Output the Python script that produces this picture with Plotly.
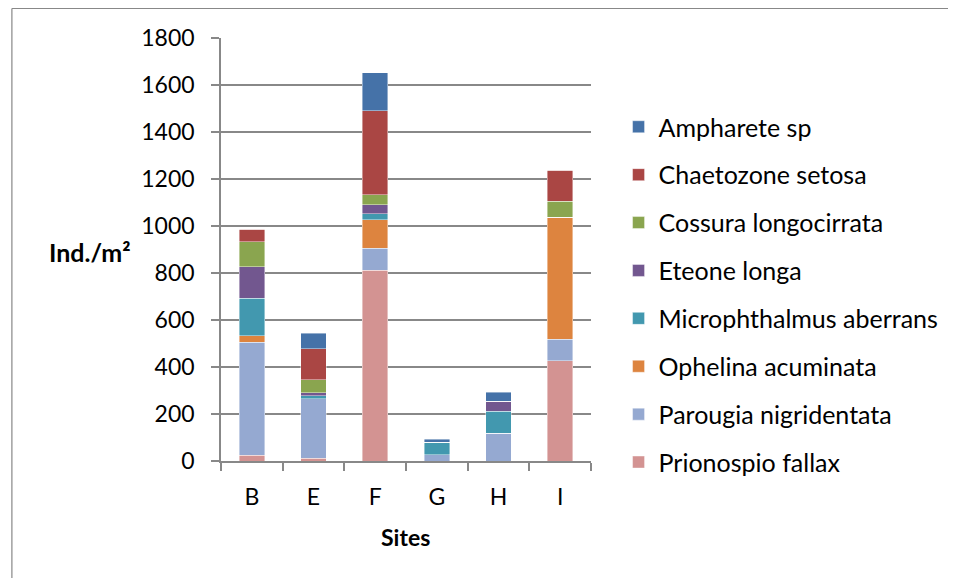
import plotly.graph_objects as go

sites = ["B", "E", "F", "G", "H", "I"]

prionospio_fallax = [24, 11, 811, 0, 0, 426]
parougia_nigridentata = [481, 253, 94, 26, 119, 93]
ophelina_acuminata = [27, 0, 121, 0, 0, 518]
microphthalmus_aberrans = [160, 14, 26, 53, 92, 0]
eteone_longa = [134, 13, 39, 0, 43, 0]
cossura_longocirrata = [106, 55, 41, 0, 0, 68]
chaetozone_setosa = [54, 132, 359, 0, 0, 133]
ampharete_sp = [0, 65, 161, 13, 38, 0]

series = [
    ("Prionospio fallax", prionospio_fallax, "#D39392"),
    ("Parougia nigridentata", parougia_nigridentata, "#95A9D1"),
    ("Ophelina acuminata", ophelina_acuminata, "#DD843F"),
    ("Microphthalmus aberrans", microphthalmus_aberrans, "#4298AF"),
    ("Eteone longa", eteone_longa, "#72578F"),
    ("Cossura longocirrata", cossura_longocirrata, "#8AA54F"),
    ("Chaetozone setosa", chaetozone_setosa, "#AA4644"),
    ("Ampharete sp", ampharete_sp, "#4572A8"),
]

y_ticks = [0, 200, 400, 600, 800, 1000, 1200, 1400, 1600, 1800]

FONT = "Lato"
OFF = 8  # page body margin offset

fig = go.Figure()
n = len(series)
for i, (name, vals, color) in enumerate(series):
    fig.add_trace(go.Bar(
        x=sites, y=vals, name=name,
        marker=dict(color=color, line=dict(color="rgba(255,255,255,0.6)", width=0.7)),
        legendgroup=f"g{n - i}",
        legendrank=n - i,
    ))

W, H = 956 - OFF, 578 - OFF
L, R, T, B = 221 - OFF, 597 - OFF, 38 - OFF, 461 - OFF

def px_x(p):
    return (p - OFF - L) / (R - L)

def px_y(p):
    return (B - (p - OFF)) / (B - T)

fig.update_layout(
    width=W, height=H,
    barmode="stack",
    bargap=0.585,
    plot_bgcolor="white",
    paper_bgcolor="white",
    margin=dict(l=L, r=W - R, t=T, b=H - B, pad=0),
    font=dict(family=FONT, size=23, color="black"),
    showlegend=True,
    legend=dict(
        traceorder="grouped",
        tracegroupgap=12.4,
        x=px_x(625), xanchor="left",
        y=px_y(104), yanchor="top",
        font=dict(family=FONT, size=25, color="black"),
        itemwidth=30,
        bgcolor="rgba(0,0,0,0)",
    ),
    xaxis=dict(
        showgrid=False,
        showline=True, linecolor="#888888", linewidth=1.5,
        ticks="outside", tickson="boundaries", ticklen=8, tickcolor="#888888", tickwidth=1.5,
        ticklabelstandoff=15,
        tickfont=dict(family=FONT, size=23),
    ),
    yaxis=dict(
        range=[0, 1800],
        tickvals=y_ticks,
        showgrid=True, gridcolor="#888888", gridwidth=1.5,
        showline=True, linecolor="#888888", linewidth=1.5,
        ticks="outside", ticklen=8, tickcolor="#888888", tickwidth=1.5,
        ticklabelstandoff=12,
        zeroline=False,
        tickfont=dict(family=FONT, size=23),
    ),
    annotations=[
        dict(text="<b>Ind./m²</b>", xref="paper", yref="paper",
             x=px_x(88), y=px_y(252), xanchor="center", yanchor="middle",
             showarrow=False, font=dict(family=FONT, size=25)),
        dict(text="<b>Sites</b>", xref="paper", yref="paper",
             x=px_x(408), y=px_y(537), xanchor="center", yanchor="middle",
             showarrow=False, font=dict(family=FONT, size=23)),
    ],
    shapes=[
        dict(type="line", xref="paper", yref="paper",
             x0=px_x(8.5), x1=px_x(960), y0=px_y(8.5), y1=px_y(8.5),
             line=dict(color="#888888", width=1.2)),
        dict(type="line", xref="paper", yref="paper",
             x0=px_x(8.5), x1=px_x(8.5), y0=px_y(8.5), y1=px_y(590),
             line=dict(color="#888888", width=1.2)),
    ],
)

fig.write_html("out.html")
